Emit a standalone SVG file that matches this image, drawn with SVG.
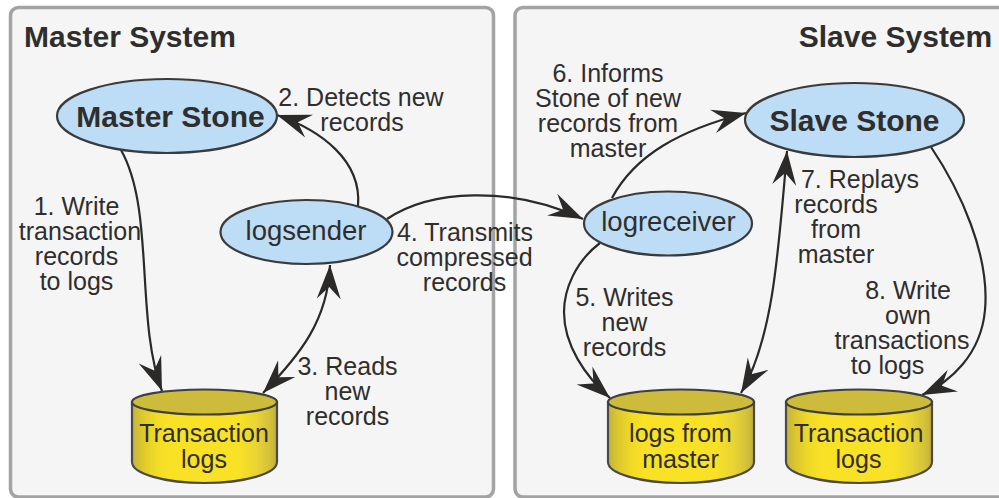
<svg xmlns="http://www.w3.org/2000/svg" width="999" height="498" viewBox="0 0 999 498">
<style>
text{font-family:"Liberation Sans",Arial,sans-serif;fill:#2f2e2d;text-anchor:middle}
.lb{font-size:25px}
.nm{font-size:27.500px}
.h{font-size:30px;font-weight:bold}
.st{font-size:30px;font-weight:bold}
.panel{fill:#f5f5f5;stroke:#a3a3a3;stroke-width:3.500}
.el{fill:#bddcf5;stroke:#3a3a3a;stroke-width:2.200}
.c{fill:none;stroke:#2b2a29;stroke-width:2.200}
.cb{fill:url(#cyl);stroke:#4a4a4a;stroke-width:2.200}
.ct{fill:#cdbc3c;stroke:#3f3f3f;stroke-width:2.200}
</style>
<defs>
<linearGradient id="cyl" x1="0" x2="1" y1="0" y2="0">
<stop offset="0" stop-color="#c4b23a"/><stop offset=".07" stop-color="#dcc82e"/><stop offset=".16" stop-color="#f0da26"/><stop offset=".25" stop-color="#f9e125"/><stop offset=".74" stop-color="#f9e125"/><stop offset=".86" stop-color="#e8d435"/><stop offset=".95" stop-color="#d3c13a"/><stop offset="1" stop-color="#c0ae3a"/>
</linearGradient>
<marker id="a" markerUnits="userSpaceOnUse" markerWidth="40" markerHeight="40" refX="34" refY="20" orient="auto-start-reverse" viewBox="0 0 40 40">
<path d="M34 20L0 8L12 20L0 32Z" fill="#2b2a29"/>
</marker>
</defs>
<g id="master-system"><rect class="panel" x="10.500" y="7.500" width="483" height="489.500" rx="8"/><text class="h" x="130" y="47">Master System</text></g>
<g id="slave-system"><rect class="panel" x="515" y="7.500" width="500" height="489.500" rx="8"/><text class="h" x="895.500" y="47">Slave System</text></g>
<g id="connectors">
<path class="c" marker-end="url(#a)" d="M121 150C155 210 135 320 162 391"/>
<path class="c" marker-end="url(#a)" d="M358 206C362 160 320 130 277 115"/>
<path class="c" marker-start="url(#a)" marker-end="url(#a)" d="M263 393C300 355 328 320 330 265"/>
<path class="c" marker-end="url(#a)" d="M387 219C430 190 510 185 583 219"/>
<path class="c" marker-end="url(#a)" d="M600 243C575 262 564 290 564 312C564 345 585 376 610 398"/>
<path class="c" marker-end="url(#a)" d="M612 198C635 155 680 130 746 113"/>
<path class="c" marker-start="url(#a)" marker-end="url(#a)" d="M741 393C772 340 778 260 787 151"/>
<path class="c" marker-end="url(#a)" d="M931 147C960 190 990 255 985 310C981 355 950 382 922 395"/>
</g>
<g id="master-stone"><ellipse class="el" cx="167" cy="116" rx="110" ry="37"/><text class="st" x="170.500" y="127">Master Stone</text></g>
<g id="slave-stone"><ellipse class="el" cx="854.500" cy="120" rx="109.500" ry="37"/><text class="st" x="854.500" y="131">Slave Stone</text></g>
<g id="logsender"><ellipse class="el" cx="306.500" cy="232" rx="86" ry="32"/><text class="nm" x="306" y="240">logsender</text></g>
<g id="logreceiver"><ellipse class="el" cx="668" cy="223.500" rx="84" ry="32"/><text class="nm" x="668.500" y="231">logreceiver</text></g>
<g id="transaction-logs-master"><path class="cb" d="M132 402V462A72.500 21 0 0 0 277 462V402Z"/><ellipse class="ct" cx="204.500" cy="402" rx="72.500" ry="12.500"/><text class="lb" x="204" y="442">Transaction</text><text class="lb" x="204" y="467.500">logs</text></g>
<g id="logs-from-master"><path class="cb" d="M608 402V462A73 21 0 0 0 754 462V402Z"/><ellipse class="ct" cx="681" cy="402" rx="73" ry="12.500"/><text class="lb" x="680.500" y="442">logs from</text><text class="lb" x="680.500" y="467.500">master</text></g>
<g id="transaction-logs-slave"><path class="cb" d="M786 402V462A73 21 0 0 0 932 462V402Z"/><ellipse class="ct" cx="859" cy="402" rx="73" ry="12.500"/><text class="lb" x="858.500" y="442">Transaction</text><text class="lb" x="858.500" y="467.500">logs</text></g>
<g id="labels">
<text class="lb"><tspan x="76.500" y="214.500">1. Write</tspan><tspan x="80" y="239.500">transaction</tspan><tspan x="76.500" y="264.500">records</tspan><tspan x="76.500" y="289.500">to logs</tspan></text>
<text class="lb"><tspan x="361" y="105.500">2. Detects new</tspan><tspan x="362" y="130.500">records</tspan></text>
<text class="lb"><tspan x="347.500" y="374.500">3. Reads</tspan><tspan x="347.500" y="399.500">new</tspan><tspan x="347.500" y="424.500">records</tspan></text>
<text class="lb"><tspan x="465" y="240.500">4. Transmits</tspan><tspan x="464.500" y="265.500">compressed</tspan><tspan x="464.500" y="290.500">records</tspan></text>
<text class="lb"><tspan x="624.500" y="305.500">5. Writes</tspan><tspan x="624.500" y="330.500">new</tspan><tspan x="624.500" y="355.500">records</tspan></text>
<text class="lb"><tspan x="608" y="81.500">6. Informs</tspan><tspan x="608" y="106.500">Stone of new</tspan><tspan x="608" y="131.500">records from</tspan><tspan x="608" y="156.500">master</tspan></text>
<text class="lb"><tspan x="860" y="187.500">7. Replays</tspan><tspan x="836" y="212.500">records</tspan><tspan x="836" y="237.500">from</tspan><tspan x="836" y="262.500">master</tspan></text>
<text class="lb"><tspan x="908" y="298.500">8. Write</tspan><tspan x="908" y="323.500">own</tspan><tspan x="902" y="348.500">transactions</tspan><tspan x="887.500" y="373.500">to logs</tspan></text>
</g>
</svg>
